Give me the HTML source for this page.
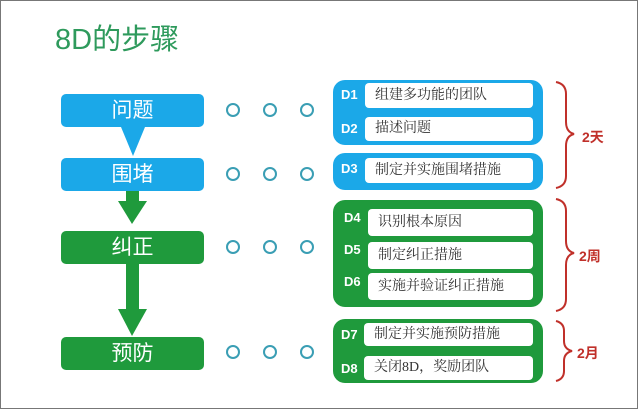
<!DOCTYPE html>
<html><head><meta charset="utf-8"><style>
body{margin:0;width:640px;height:411px;background:#fff;position:relative;overflow:hidden;font-family:"Liberation Sans","Noto Sans CJK SC",sans-serif}
.frame{position:absolute;left:0;top:0;width:638px;height:409px;border:1px solid #777}
div{box-sizing:border-box}
.a{position:absolute}
.step{position:absolute;left:61px;width:143px;height:33px;border-radius:5px;color:#fff;font-size:21px;text-align:center;line-height:33px}
.b{background:#1ba8e8}.g{background:#1f9a3c}
.c{position:absolute;width:14px;height:14px;border:2.5px solid #3a9eb4;border-radius:50%}
.p{position:absolute;left:333px;width:210px;border-radius:12px}
.w{position:absolute;background:#fff;border-radius:4px;font-size:14px;color:#333;padding-left:10px;font-family:"Liberation Serif","Noto Serif CJK SC",serif}
.d{position:absolute;color:#fff;font-weight:bold;font-size:13px}
.lbl{position:absolute;color:#c0302a;font-weight:bold;font-size:14px}
</style></head><body>
<div class="frame"></div>
<div class="a" style="left:55px;top:16px;font-size:29px;color:#2e9a5c">8D的步骤</div>

<div class="step b" style="top:94px">问题</div>
<svg class="a" style="left:0;top:0" width="640" height="411">
<polygon points="121,127 145,127 133,156" fill="#1ba8e8"/>
<rect x="126" y="190" width="13" height="14" fill="#1f9a3c"/>
<polygon points="118,201 147,201 132,224" fill="#1f9a3c"/>
<rect x="126" y="263" width="13" height="52" fill="#1f9a3c"/>
<polygon points="118,309 147,309 132,336" fill="#1f9a3c"/>
<g fill="none" stroke="#c0302a" stroke-width="2">
<path d="M556,82 q10,2 10,12 v28 q0,10 8,12 q-8,2 -8,12 v30 q0,10 -10,12"/>
<path d="M556,199 q10,2 10,12 v30 q0,10 8,12 q-8,2 -8,12 v34 q0,10 -10,12"/>
<path d="M556,321 q8,2 8,10 v10 q0,8 8,10 q-8,2 -8,10 v10 q0,8 -8,10"/>
</g>
</svg>
<div class="step b" style="top:158px">围堵</div>
<div class="step g" style="top:231px">纠正</div>
<div class="step g" style="top:337px">预防</div>

<div class="c" style="left:226px;top:103px"></div><div class="c" style="left:263px;top:103px"></div><div class="c" style="left:300px;top:103px"></div>
<div class="c" style="left:226px;top:167px"></div><div class="c" style="left:263px;top:167px"></div><div class="c" style="left:300px;top:167px"></div>
<div class="c" style="left:226px;top:240px"></div><div class="c" style="left:263px;top:240px"></div><div class="c" style="left:300px;top:240px"></div>
<div class="c" style="left:226px;top:345px"></div><div class="c" style="left:263px;top:345px"></div><div class="c" style="left:300px;top:345px"></div>

<div class="p b" style="top:80px;height:65px"></div>
<div class="d" style="left:341px;top:87px">D1</div>
<div class="w" style="left:365px;top:83px;width:168px;height:25px;line-height:25px">组建多功能的团队</div>
<div class="d" style="left:341px;top:121px">D2</div>
<div class="w" style="left:365px;top:117px;width:168px;height:24px;line-height:24px">描述问题</div>

<div class="p b" style="top:153px;height:37px"></div>
<div class="d" style="left:341px;top:161px">D3</div>
<div class="w" style="left:365px;top:158px;width:168px;height:25px;line-height:25px">制定并实施围堵措施</div>

<div class="p g" style="top:200px;height:107px"></div>
<div class="d" style="left:344px;top:210px">D4</div>
<div class="w" style="left:368px;top:209px;width:165px;height:27px;line-height:27px">识别根本原因</div>
<div class="d" style="left:344px;top:242px">D5</div>
<div class="w" style="left:368px;top:242px;width:165px;height:27px;line-height:27px">制定纠正措施</div>
<div class="d" style="left:344px;top:274px">D6</div>
<div class="w" style="left:368px;top:273px;width:165px;height:27px;line-height:27px">实施并验证纠正措施</div>

<div class="p g" style="top:319px;height:64px"></div>
<div class="d" style="left:341px;top:327px">D7</div>
<div class="w" style="left:364px;top:323px;width:169px;height:23px;line-height:23px">制定并实施预防措施</div>
<div class="d" style="left:341px;top:361px">D8</div>
<div class="w" style="left:364px;top:356px;width:169px;height:24px;line-height:24px">关闭8D，奖励团队</div>

<div class="lbl" style="left:582px;top:127px">2天</div>
<div class="lbl" style="left:579px;top:246px">2周</div>
<div class="lbl" style="left:577px;top:343px">2月</div>
</body></html>
